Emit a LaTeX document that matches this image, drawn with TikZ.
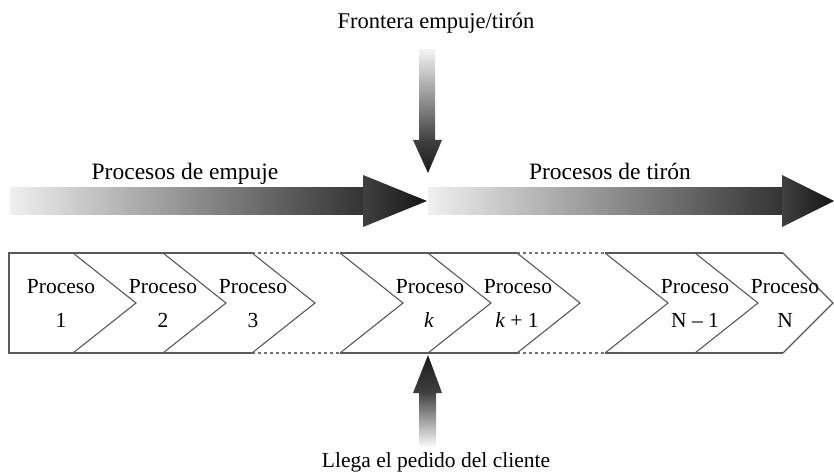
\documentclass[tikz,border=0pt]{standalone}
\usepackage{fontspec}
\setmainfont{Liberation Serif}
\begin{document}
\begin{tikzpicture}[x=1pt,y=-1pt,
  stripline/.style={draw=black!65,line width=1.2pt},
  dotline/.style={draw=black!55,line width=1.2pt,dash pattern=on 3pt off 3pt},
  chev/.style={draw=black!65,line width=1.1pt,line join=miter},
  proc/.style={font=\fontsize{21.5}{25}\selectfont,inner sep=0pt,anchor=base},
  biglabel/.style={font=\fontsize{22.5}{26}\selectfont,inner sep=0pt,anchor=base},
  headfill/.style={left color=black!75,right color=black!92}
]
\useasboundingbox (0,0) rectangle (834,473);

% ---- horizontal gradient arrows ----
\shade[left color=black!6,right color=black!80] (10,187) rectangle (364,214);
\shade[headfill] (363,175) -- (427,201) -- (363,227) -- cycle;
\shade[left color=black!6,right color=black!80] (428,187) rectangle (783,214);
\shade[headfill] (782,175) -- (834,201) -- (782,227) -- cycle;

% ---- vertical arrows ----
\shade[top color=black!5,bottom color=black!75] (419,50) rectangle (435,141);
\shade[top color=black!75,bottom color=black!90] (413,140) -- (442,140) -- (428,173) -- cycle;
\shade[top color=black!75,bottom color=white] (419,392) rectangle (436,448);
\shade[top color=black!90,bottom color=black!75] (413,393) -- (442,393) -- (428,355) -- cycle;

% ---- strip ----
\coordinate (tl) at (9,253);
\coordinate (bl) at (9,353);
\draw[stripline] (252,253) -- (tl) -- (bl) -- (252,353);
\draw[dotline] (252,253) -- (340,253);
\draw[dotline] (252,353) -- (340,353);
\draw[stripline] (340,253) -- (517,253);
\draw[stripline] (340,353) -- (517,353);
\draw[dotline] (517,253) -- (605,253);
\draw[dotline] (517,353) -- (605,353);
\draw[stripline] (605,253) -- (783,253);
\draw[stripline] (605,353) -- (783,353);

\foreach \v in {73,163,252,340,428,517,605,695}{
  \draw[chev] (\v,253) -- (\v+63,303) -- (\v,353);
}
\draw[chev] (783,253) -- (833,303) -- (783,353);

% ---- process labels ----
\node[proc] (p1) at (61,293) {Proceso};
\node[proc] (n1) at (61,327) {1};
\node[proc] (p2) at (163,293) {Proceso};
\node[proc] (n2) at (163,327) {2};
\node[proc] (p3) at (253,293) {Proceso};
\node[proc] (n3) at (253,327) {3};
\node[proc] (pk) at (430,293) {Proceso};
\node[proc] (nk) at (429,327) {\itshape k};
\node[proc] (pk1) at (518,293) {Proceso};
\node[proc] (nk1) at (517,327) {\itshape k\upshape\ + 1};
\node[proc] (pn1) at (695,293) {Proceso};
\node[proc] (nn1) at (695,327) {N – 1};
\node[proc] (pn) at (785,293) {Proceso};
\node[proc] (nn) at (785,327) {N};

% ---- big labels ----
\node[biglabel] (front) at (436,29) {Frontera empuje/tirón};
\node[biglabel,font=\fontsize{23.5}{27}\selectfont] (push) at (185,179) {Procesos de empuje};
\node[biglabel,font=\fontsize{23.5}{27}\selectfont] (pull) at (610,179) {Procesos de tirón};
\node[biglabel,font=\fontsize{21.5}{25}\selectfont] (order) at (436,467) {Llega el pedido del cliente};
\end{tikzpicture}
\end{document}
